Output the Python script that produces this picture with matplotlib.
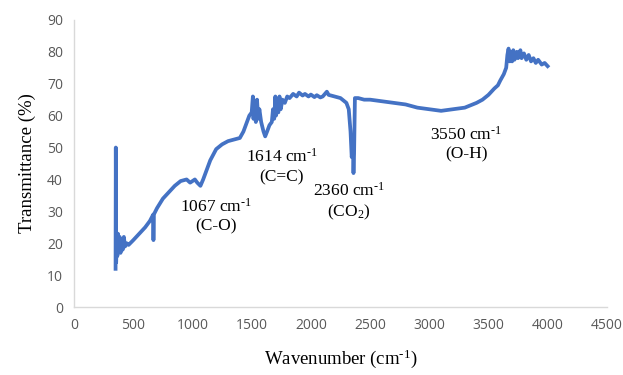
import matplotlib
matplotlib.use("Agg")
import matplotlib.pyplot as plt
import numpy as np

plt.rcParams['mathtext.fontset'] = 'custom'
plt.rcParams['mathtext.rm'] = 'Liberation Serif'
plt.rcParams['mathtext.default'] = 'regular'

# FTIR spectrum
wavenumber = [350, 352, 355, 360, 365, 370, 378, 385, 392, 400, 410, 420, 430, 445, 460,
              500, 550, 600, 640, 668, 670, 673, 700, 750, 800, 850, 900, 950, 980, 1000,
              1020, 1040, 1067, 1090, 1120, 1150, 1200, 1250, 1300, 1350, 1400, 1430, 1460,
              1480, 1500, 1510, 1515, 1525, 1535, 1545, 1555, 1565, 1580, 1600, 1614, 1630,
              1650, 1670, 1680, 1690, 1700, 1705, 1715, 1725, 1735, 1745, 1760, 1780, 1800,
              1820, 1850, 1880, 1900, 1930, 1950, 1980, 2000, 2030, 2050, 2080, 2100, 2135,
              2150, 2200, 2250, 2300, 2320, 2335, 2345, 2355, 2360, 2365, 2372, 2400, 2450,
              2500, 2600, 2700, 2800, 2900, 3000, 3100, 3200, 3300, 3400, 3450, 3500, 3550,
              3580, 3600, 3630, 3650, 3660, 3670, 3680, 3690, 3700, 3710, 3720, 3740, 3750,
              3770, 3780, 3800, 3820, 3840, 3860, 3880, 3900, 3920, 3950, 3975, 4000]
transmittance = [12, 50, 14, 22, 16, 23, 18, 22, 17, 21, 18, 22, 19, 20, 19.5,
                 21, 23, 25, 27, 29, 21, 29, 31, 34, 36, 38, 39.5, 40, 39, 39.5,
                 40, 39, 38, 40, 43, 46, 49.5, 51, 52, 52.5, 53, 55, 58,
                 60, 61, 66, 59, 64, 58, 65, 59, 62, 58, 55, 53.5, 55,
                 57, 58, 62, 59, 66, 60, 64, 61, 66, 62, 65, 64, 66,
                 65.5, 66.8, 66, 67.2, 66.3, 66.8, 66, 66.6, 65.8, 66.4, 65.7, 66, 67.5,
                 66.5, 66, 65.5, 64, 62, 55, 47, 50, 42, 48, 65.5, 65.5, 65,
                 65, 64.5, 64, 63.5, 62.5, 62, 61.5, 62, 62.5, 64, 65, 66.5, 68.5,
                 69.5, 71, 73, 75, 79, 81, 77, 80, 77, 80.5, 77.5, 80, 78,
                 80.5, 78, 79.5, 77.5, 79, 77, 78, 76.5, 77.5, 76, 76.5, 75.5]

peak_labels = ['1067 cm$^{\\text{-}1}$\n(C-O)', '1614 cm$^{\\text{-}1}$\n(C=C)',
               '2360 cm$^{\\text{-}1}$\n(CO$_2$)', '3550 cm$^{\\text{-}1}$\n(O-H)']
label_x = [1195, 1754, 2322, 3314]
label_y = [28.5, 44, 33, 51]

fig = plt.figure(figsize=(6.23, 3.75), dpi=100)
ax = fig.add_axes([0.119, 0.181, 0.855, 0.766])

ax.plot(wavenumber, transmittance, color='#4472C4', linewidth=2.7)

for txt, lx, ly in zip(peak_labels, label_x, label_y):
    ax.text(lx, ly, txt, ha='center', va='center', fontsize=12.5,
            family='Liberation Serif', linespacing=1.25)

ax.set_xlim(0, 4500)
ax.set_ylim(0, 90)
ax.set_xticks(np.arange(0, 4501, 500))
ax.set_yticks(np.arange(0, 91, 10))

for s in ['top', 'right']:
    ax.spines[s].set_visible(False)
for s in ['left', 'bottom']:
    ax.spines[s].set_color('#D9D9D9')
    ax.spines[s].set_linewidth(1)
ax.tick_params(length=0, labelsize=10, labelcolor='#595959', pad=8)
for lab in ax.get_xticklabels() + ax.get_yticklabels():
    lab.set_family('Open Sans')

ax.set_xlabel('Wavenumber (cm$^{\\text{-}1}$)', fontsize=13.5, family='Liberation Serif', labelpad=10)
ax.set_ylabel('Transmittance (%)', fontsize=13.5, family='Liberation Serif', labelpad=8)

fig.savefig('out.png', dpi=100)
